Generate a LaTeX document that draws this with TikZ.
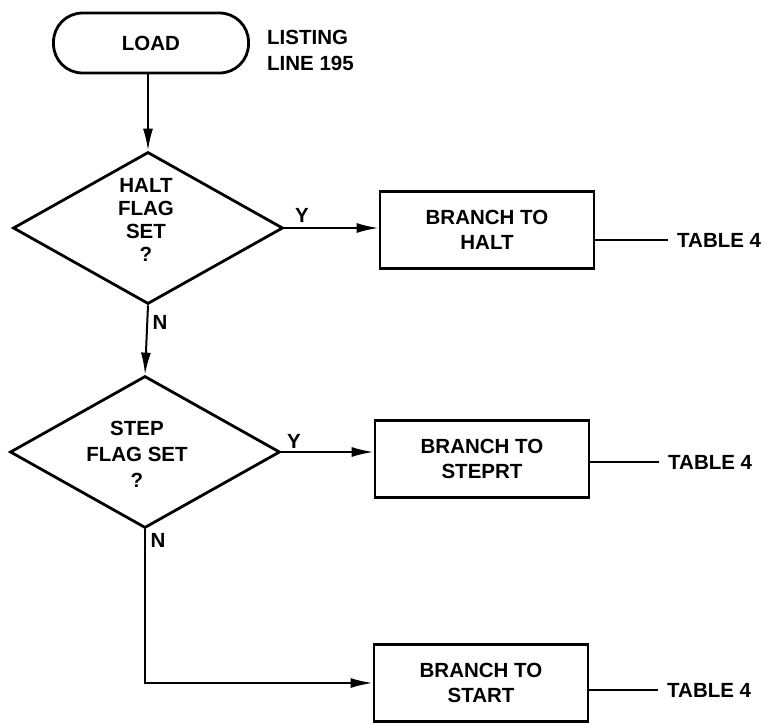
\documentclass[tikz,border=0pt]{standalone}
\usepackage{fontspec}
\setmainfont{Liberation Sans}
\usetikzlibrary{shapes.geometric,arrows.meta}
\begin{document}
\begin{tikzpicture}[x=1pt,y=-1pt,
  txt/.style={font=\fontsize{20.5}{23}\selectfont\bfseries, align=center, inner sep=0pt},
  procbox/.style={draw, line width=2.8pt, minimum width=214pt, minimum height=77pt, txt},
  decision/.style={draw, diamond, line width=2.8pt, inner sep=0pt},
  arr/.style={line width=2pt, -{Latex[length=22pt,width=10pt]}},
  ln/.style={line width=2pt},
  tablab/.style={txt, anchor=west, inner xsep=9pt}]
\useasboundingbox (0,0) rectangle (767,726);
% terminal
\node[draw, line width=2.8pt, rounded corners=29pt, minimum width=195pt, minimum height=60pt, txt] (load) at (151,43) {LOAD};
\node[txt, anchor=west, align=left] (listing) at (267,50) {LISTING\\[3pt]LINE 195};
% decision 1
\node[decision, minimum width=270pt, minimum height=152pt] (d1) at (148,228) {};
\node[txt] (t1) at (146,220) {HALT\\FLAG\\SET\\?};
% process 1
\node[procbox] (b1) at (487,230) {BRANCH TO\\[2pt]HALT};
\node[tablab] (tb1) at (668,240) {TABLE 4};
\node[txt] (y1) at (302,215) {Y};
\node[txt] (n1) at (160,322) {N};
% decision 2
\node[decision, minimum width=270pt, minimum height=152pt] (d2) at (145,452) {};
\node[txt] (t2) at (137,454) {STEP\\[3pt]FLAG SET\\[3pt]?};
% process 2
\node[procbox] (b2) at (482,459) {BRANCH TO\\[2pt]STEPRT};
\node[tablab] (tb2) at (659,462) {TABLE 4};
\node[txt] (y2) at (294,441) {Y};
\node[txt] (n2) at (158,540) {N};
% process 3
\node[procbox] (b3) at (481,683) {BRANCH TO\\[2pt]START};
\node[tablab] (tb3) at (658,690) {TABLE 4};
% connectors
\draw[arr] (d1.north |- load.south) -- (d1.north);
\draw[arr] (d1.east) -- (b1.west |- d1.east);
\draw[ln] (b1.east |- tb1.west) -- (tb1.west);
\draw[arr] (d1.south) -- (d2.north);
\draw[arr] (d2.east) -- (b2.west |- d2.east);
\draw[ln] (b2.east |- tb2.west) -- (tb2.west);
\draw[arr] (d2.south) -- (d2.south |- b3.west) -- (b3.west);
\draw[ln] (b3.east |- tb3.west) -- (tb3.west);
\end{tikzpicture}
\end{document}
